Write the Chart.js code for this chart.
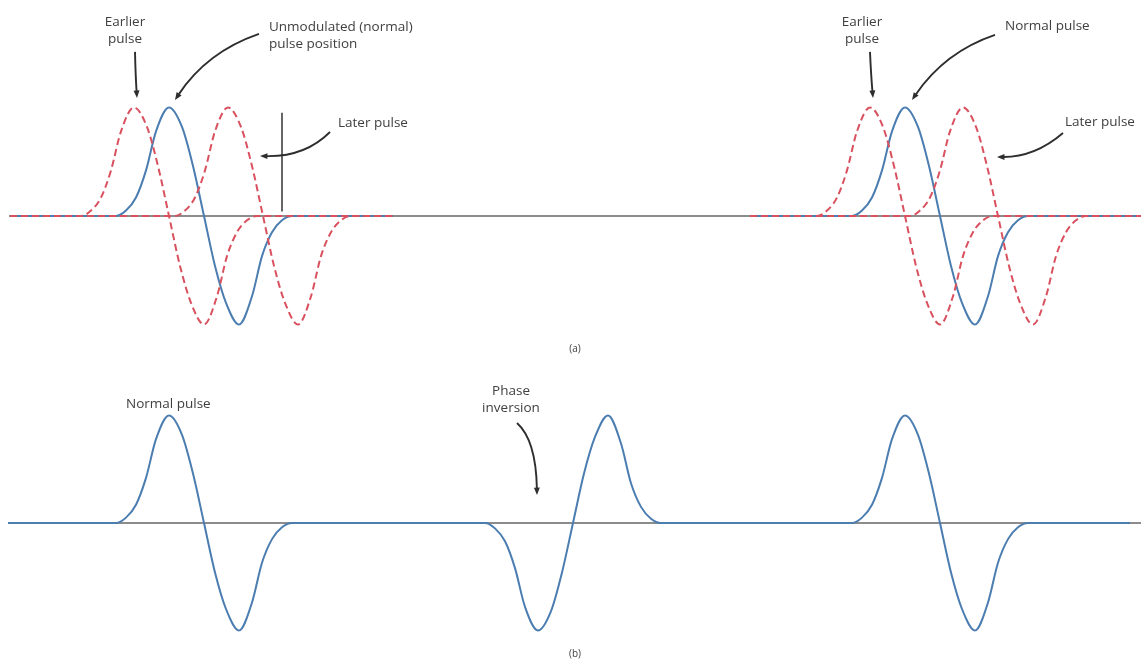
<!DOCTYPE html>
<html>
<head>
<meta charset="utf-8">
<script src="https://cdn.jsdelivr.net/npm/chart.js@4.4.1/dist/chart.umd.min.js"></script>
<style>
  html, body { margin: 0; padding: 0; background: #fff; }
  #wrap { position: relative; width: 1141px; height: 662px; }
</style>
</head>
<body>
<div id="wrap"><canvas id="pulseChart" width="1141" height="662"></canvas></div>
<script>
// pulse shape: offset from the zero crossing, relative amplitude
const pulseOffsets = [-88, -78, -68, -58, -48, -35, -22, -11, 0, 11, 22, 35, 48, 58, 68, 78, 88];
const pulseShape   = [0, 0.05, 0.17, 0.42, 0.78, 1, 0.82, 0.46, 0, -0.46, -0.8, -1, -0.74, -0.37, -0.15, -0.04, 0];

// panel (a): zero-crossing time of each pulse, left group and right group
const normalCentersA  = [204, 940];
const earlierCentersA = [169, 905];
const laterCentersA   = [263, 998];
const traceSpansA     = [[10, 393], [750, 1141]];
const baselineA       = [9, 1141];
const markerX         = 282;
const markerY         = [0.04, 0.95];

// panel (b): normal, inverted, normal
const centersB   = [204, 573, 940];
const polarityB  = [1, -1, 1];
const traceSpanB = [8, 1130];
const baselineB  = [8, 1141];

const BLUE = '#4b7db0';
const RED = '#d9515f';
const GRAY = '#8c8c8c';
const INK = '#404040';

function pulsePoints(center, sign) {
    return pulseOffsets.map((o, i) => ({ x: center + o, y: sign * pulseShape[i] }));
}

function trace(span, centers, signs) {
    let pts = [{ x: span[0], y: 0 }];
    centers.forEach((c, i) => {
        pts = pts.concat(pulsePoints(c, signs ? signs[i] : 1));
    });
    pts.push({ x: span[1], y: 0 });
    return pts;
}

function line(data, axis, color, width, order, dash) {
    return {
        data: data,
        yAxisID: axis,
        borderColor: color,
        borderWidth: width,
        borderDash: dash || [],
        cubicInterpolationMode: 'monotone',
        pointRadius: 0,
        fill: false,
        clip: false,
        order: order,
    };
}

const datasets = [];
// baselines
datasets.push(line([{ x: baselineA[0], y: 0 }, { x: baselineA[1], y: 0 }], 'ya', GRAY, 2, 10));
datasets.push(line([{ x: baselineB[0], y: 0 }, { x: baselineB[1], y: 0 }], 'yb', GRAY, 2, 10));
// panel (a) pulses
traceSpansA.forEach((span, g) => {
    datasets.push(line(trace(span, [normalCentersA[g]]), 'ya', BLUE, 2, 5));
    datasets.push(line(trace(span, [earlierCentersA[g]]), 'ya', RED, 2, 2, [7, 4]));
    datasets.push(line(trace(span, [laterCentersA[g]]), 'ya', RED, 2, 2, [7, 4]));
});
// sampling marker in (a)
datasets.push(line([{ x: markerX, y: markerY[0] }, { x: markerX, y: markerY[1] }], 'ya', '#333', 1.5, 0));
// panel (b)
datasets.push(line(trace(traceSpanB, centersB, polarityB), 'yb', BLUE, 2, 5));

// callouts, in data units of each panel
const notes = [
    { axis: 'ya', x: 125, y: 1.79, lines: ['Earlier', 'pulse'], align: 'center' },
    { axis: 'ya', x: 269, y: 1.74, lines: ['Unmodulated (normal)', 'pulse position'], align: 'left' },
    { axis: 'ya', x: 338, y: 0.857, lines: ['Later pulse'], align: 'left' },
    { axis: 'ya', x: 862, y: 1.79, lines: ['Earlier', 'pulse'], align: 'center' },
    { axis: 'ya', x: 1005, y: 1.751, lines: ['Normal pulse'], align: 'left' },
    { axis: 'ya', x: 1065, y: 0.866, lines: ['Later pulse'], align: 'left' },
    { axis: 'ya', x: 575, y: -1.226, lines: ['(a)'], align: 'center', small: true },
    { axis: 'yb', x: 126, y: 1.107, lines: ['Normal pulse'], align: 'left' },
    { axis: 'yb', x: 511, y: 1.228, lines: ['Phase', 'inversion'], align: 'center' },
    { axis: 'yb', x: 575, y: -1.219, lines: ['(b)'], align: 'center', small: true },
];

const arrows = [
    { axis: 'ya', from: [135, 1.512], ctrl: [135.5, 1.30], to: [137, 1.088] },
    { axis: 'ya', from: [259, 1.677], ctrl: [207, 1.512], to: [175, 1.069] },
    { axis: 'ya', from: [330, 0.774], ctrl: [305, 0.544], to: [260, 0.553] },
    { axis: 'ya', from: [870, 1.512], ctrl: [871, 1.30], to: [873, 1.088] },
    { axis: 'ya', from: [995, 1.668], ctrl: [945, 1.512], to: [912, 1.069] },
    { axis: 'ya', from: [1063, 0.765], ctrl: [1035, 0.544], to: [997, 0.544] },
    { axis: 'yb', from: [517, 0.930], ctrl: [536, 0.772], to: [537, 0.260] },
];

const calloutPlugin = {
    id: 'callouts',
    afterDatasetsDraw(chart) {
        const ctx = chart.ctx;
        const xs = chart.scales.x;
        ctx.save();
        ctx.textBaseline = 'middle';
        notes.forEach(n => {
            const ys = chart.scales[n.axis];
            ctx.fillStyle = INK;
            ctx.font = n.small ? '10px "Open Sans"' : '13.5px "Open Sans"';
            ctx.textAlign = n.align;
            n.lines.forEach((t, i) => {
                ctx.fillText(t, xs.getPixelForValue(n.x), ys.getPixelForValue(n.y) + i * 17);
            });
        });
        ctx.strokeStyle = '#2e2e2e';
        ctx.fillStyle = '#2e2e2e';
        arrows.forEach(a => {
            const ys = chart.scales[a.axis];
            const p0 = [xs.getPixelForValue(a.from[0]), ys.getPixelForValue(a.from[1])];
            const c = [xs.getPixelForValue(a.ctrl[0]), ys.getPixelForValue(a.ctrl[1])];
            const p1 = [xs.getPixelForValue(a.to[0]), ys.getPixelForValue(a.to[1])];
            const ang = Math.atan2(p1[1] - c[1], p1[0] - c[0]);
            const head = 8;
            ctx.lineWidth = 1.9;
            ctx.beginPath();
            ctx.moveTo(p0[0], p0[1]);
            ctx.quadraticCurveTo(c[0], c[1], p1[0] - Math.cos(ang) * head * 0.8, p1[1] - Math.sin(ang) * head * 0.8);
            ctx.stroke();
            ctx.beginPath();
            ctx.moveTo(p1[0], p1[1]);
            ctx.lineTo(p1[0] - head * Math.cos(ang - 0.38), p1[1] - head * Math.sin(ang - 0.38));
            ctx.lineTo(p1[0] - head * Math.cos(ang + 0.38), p1[1] - head * Math.sin(ang + 0.38));
            ctx.closePath();
            ctx.fill();
        });
        ctx.restore();
    }
};

new Chart(document.getElementById('pulseChart'), {
    type: 'line',
    data: { datasets: datasets },
    options: {
        responsive: false,
        animation: false,
        devicePixelRatio: 1,
        layout: { padding: 0 },
        scales: {
            x: { type: 'linear', min: 0, max: 1141, display: false },
            ya: { type: 'linear', min: -4.11, max: 1.99, display: false },
            yb: { type: 'linear', min: -1.293, max: 4.865, display: false },
        },
        plugins: {
            legend: { display: false },
            tooltip: { enabled: false },
        },
    },
    plugins: [calloutPlugin],
});
</script>
</body>
</html>
